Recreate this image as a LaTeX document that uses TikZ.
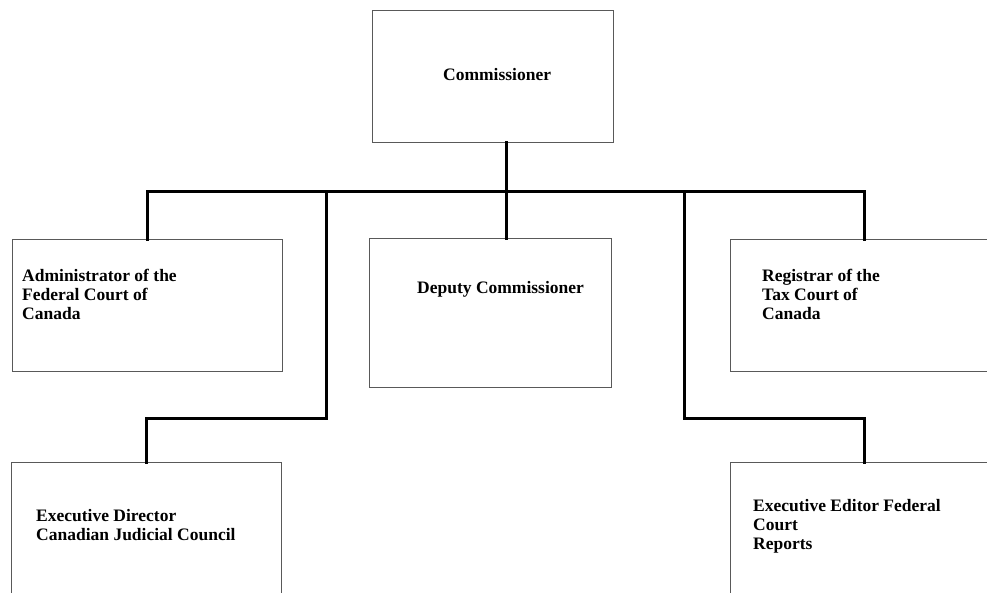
\documentclass[tikz,border=0pt]{standalone}
\usepackage{fontspec}
\setmainfont{Liberation Serif}
\begin{document}
\begin{tikzpicture}[x=1pt,y=-1pt,
  box/.style={draw=black!65,line width=0.8pt,fill=white,inner sep=0pt,anchor=north west},
  conn/.style={draw=black,line width=3pt,line cap=rect},
  lbl/.style={inner sep=0pt,anchor=base west,align=left,font=\bfseries\fontsize{17.5}{19}\selectfont}]
\clip (0,0) rectangle (987,592);
\fill[white] (0,0) rectangle (987,592);
% junction coordinates
\coordinate (busL) at (147,191);
\coordinate (busR) at (864,191);
\coordinate (j0) at (506,191);
\coordinate (l1) at (326,191);
\coordinate (l2) at (326,418);
\coordinate (r1) at (684,191);
\coordinate (r2) at (684,418);
% boxes
\node[box,minimum width=241pt,minimum height=132pt] (c) at (372,10) {};
\node[box,minimum width=270pt,minimum height=132pt] (a) at (12,239) {};
\node[box,minimum width=242pt,minimum height=149pt] (d) at (369,238) {};
\node[box,minimum width=268pt,minimum height=132pt] (r) at (730,239) {};
\node[box,minimum width=270pt,minimum height=160pt] (e) at (11,462) {};
\node[box,minimum width=268pt,minimum height=160pt] (f) at (730,462) {};
% connectors
\draw[conn] (busL) -- (busR);
\draw[conn] (c.south -| j0) -- (j0);
\draw[conn] (busL) -- (busL |- a.north);
\draw[conn] (j0) -- (j0 |- d.north);
\draw[conn] (busR) -- (busR |- r.north);
\draw[conn] (l1) -- (l2) -- (l2 -| e.north) -- (e.north);
\draw[conn] (r1) -- (r2) -- (r2 -| f.north) -- (f.north);
% labels
\node[lbl] (tc) at (443,80) {Commissioner};
\node[lbl] (ta) at (22,319) {Administrator of the\\Federal Court of\\Canada};
\node[lbl] (td) at (417,293) {Deputy Commissioner};
\node[lbl] (tr) at (762,319) {Registrar of the\\Tax Court of\\Canada};
\node[lbl] (te) at (36,540) {Executive Director\\Canadian Judicial Council};
\node[lbl] (tf) at (753,549) {Executive Editor Federal\\Court\\Reports};
\end{tikzpicture}
\end{document}
